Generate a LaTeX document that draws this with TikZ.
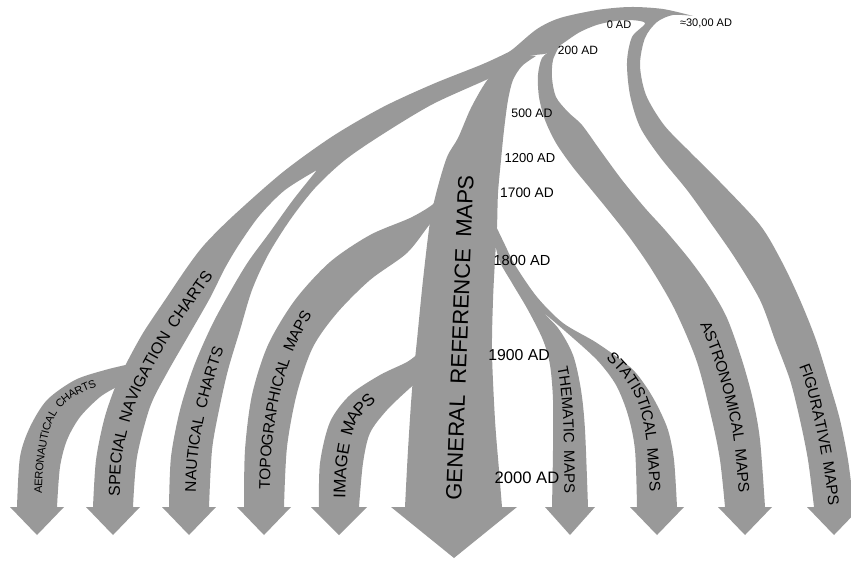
\documentclass[tikz,border=0pt]{standalone}
\usepackage{fontspec}
\setmainfont{Liberation Sans}
\newfontfamily\lbl[WordSpace=1.8]{Liberation Sans}
\usetikzlibrary{decorations.text}
\definecolor{bandgray}{RGB}{153,153,153}
\newcommand\curvlabel[4]{%
 \path[decorate,decoration={text along path,text align=center,raise=#2,text color=black,text={|\lbl\fontsize{#1}{#1}\selectfont|#4}}] #3;}
\begin{document}
\begin{tikzpicture}[x=1pt,y=-1pt,
  band/.style={fill=bandgray,draw=none},
  datelbl/.style={inner sep=0pt,text=black}]
\useasboundingbox (0,0) rectangle (851,560);

% figurative hook with the top arc
\fill[band] plot[smooth] coordinates {(814,507) (808,460) (800,420) (790,380) (775,340) (760,300) (735,258) (710,222) (687,190) (660,157) (640,127) (630,95) (627,62) (632,37) (645,23) (625,20) (600,24) (580,32) (562,44) (548,53) (535,55) (515,58) (505,62)}
  -- plot[smooth] coordinates {(500,58) (513,49) (537,29) (560,18) (597,10) (630,7) (663,9) (693,16)}
  -- plot[smooth] coordinates {(693,16) (673,15) (657,22) (645,38) (640,65) (646,95) (664,125) (690,152) (720,182) (760,225) (782,262) (800,300) (816,340) (830,385) (840,420) (848,460) (854,507)}
  -- (861,507) -- (834,535) -- (807,507) -- cycle;

% astronomical
\fill[band] plot[smooth] coordinates {(725,507) (720,460) (712,420) (697,362) (675,310) (652,270) (630,238) (608,210) (590,188) (572,166) (556,143) (545,120) (539,97) (538,75) (542,58) (552,50)}
  -- plot[smooth] coordinates {(560,45) (553,60) (552,78) (556,97) (568,112) (582,125) (600,150) (622,180) (645,208) (665,230) (690,260) (710,288) (727,318) (742,360) (753,400) (760,440) (765,507)}
  -- (772,507) -- (745,535) -- (718,507) -- cycle;

% general reference trunk
\fill[band] plot[smooth] coordinates {(405,507) (408,450) (412,390) (417,340) (423,280) (430,222) (437,190) (447,157) (458,138) (470,110) (482,88) (492,74) (505,62) (520,55) (536,56)}
  -- plot[smooth] coordinates {(536,56) (522,66) (513,80) (508,100) (504,130) (501,160) (498,193) (497,227) (495,260) (493,300) (492,353) (495,420) (499,470) (502,507)}
  -- (517,507) -- (454,558) -- (391,507) -- cycle;

% thematic + statistical
\fill[band] plot[smooth] coordinates {(552,507) (553,450) (553,400) (550,365) (543,340) (528,310) (512,283) (500,262) (494,240)}
  -- plot[smooth] coordinates {(494,222) (505,245) (515,265) (537,297) (563,323) (597,343) (630,367) (645,385) (657,405) (668,430) (674,460) (677,507)}
  -- (684,507) -- (657,535) -- (630,507)
  -- plot[smooth] coordinates {(637,507) (635,450) (628,415) (616,385) (597,360) (565,331) (538,308)}
  -- plot[smooth] coordinates {(538,308) (558,328) (573,355) (581,390) (585,430) (588,507)}
  -- (595,507) -- (570,535) -- (545,507) -- cycle;

% topographical
\fill[band] plot[smooth] coordinates {(244,507) (245,450) (252,395) (268,345) (295,300) (330,262) (370,235) (410,218) (432,205) (440,195)}
  -- plot[smooth] coordinates {(440,215) (430,224) (407,253) (370,280) (337,313) (313,347) (297,393) (287,447) (284,507)}
  -- (291,507) -- (264,535) -- (237,507) -- cycle;

% image maps
\fill[band] plot[smooth] coordinates {(319,507) (320,463) (330,422) (350,395) (380,375) (407,362) (420,352)}
  -- plot[smooth] coordinates {(420,380) (410,388) (387,410) (370,433) (363,463) (359,507)}
  -- (367,507) -- (339,535) -- (311,507) -- cycle;

% special navigation + nautical
\fill[band] plot[smooth] coordinates {(93,507) (96,460) (104,420) (114,390) (125,366) (143,333) (165,300) (188,266) (205,244) (233,216) (283,172) (333,136) (383,107) (433,84) (483,64) (513,50) (530,42)}
  -- plot[smooth] coordinates {(530,56) (505,68) (490,78) (433,104) (383,134) (345,160) (315,188) (290,220) (268,255) (252,290) (240,330) (228,370) (219,410) (212,450) (209,507)}
  -- (216,507) -- (189,535) -- (162,507)
  -- plot[smooth] coordinates {(169,507) (171,457) (180,410) (194,366) (212,325) (230,292) (248,262) (270,232) (293,200) (317,170)}
  -- plot[smooth] coordinates {(317,170) (285,190) (260,215) (240,243) (225,268) (210,298) (190,333) (167,373) (150,407) (137,457) (133,507)}
  -- (140,507) -- (113,535) -- (86,507) -- cycle;

% aeronautical
\fill[band] plot[smooth] coordinates {(17,507) (20,457) (30,427) (47,400) (75,380) (105,370) (130,364)}
  -- plot[smooth] coordinates {(125,380) (118,386) (100,397) (80,417) (67,440) (60,467) (57,507)}
  -- (64,507) -- (37,535) -- (10,507) -- cycle;

% band labels
\curvlabel{11}{-4pt}{plot[smooth] coordinates {(37,530) (39,470) (47,425) (65,398) (100,381) (130,372)}}{AERONAUTICAL CHARTS}
\curvlabel{16}{-5.8pt}{plot[smooth] coordinates {(113,545) (114,505) (116,457) (128,407) (145,370) (166,333) (189,300) (212,268) (240,235)}}{SPECIAL NAVIGATION CHARTS}
\curvlabel{15.5}{-5.6pt}{plot[smooth] coordinates {(189,560) (190,507) (192,457) (200,410) (212,366) (227,325) (246,285)}}{NAUTICAL CHARTS}
\curvlabel{15.5}{-5.6pt}{plot[smooth] coordinates {(264,600) (264,507) (266,450) (274,395) (290,345) (315,300) (350,265) (390,240)}}{TOPOGRAPHICAL MAPS}
\curvlabel{17}{-6.1pt}{plot[smooth] coordinates {(339,555) (339,507) (341,463) (350,422) (368,400) (393,381) (420,365)}}{IMAGE MAPS}
\curvlabel{22}{-7.9pt}{(451,560) -- (468,115)}{GENERAL REFERENCE MAPS}
\curvlabel{15}{-5.4pt}{plot[smooth] coordinates {(520,270) (540,305) (556,340) (565,380) (569,430) (570,507) (570,600)}}{THEMATIC MAPS}
\curvlabel{15.5}{-5.6pt}{plot[smooth] coordinates {(540,300) (575,325) (600,345) (625,370) (643,400) (652,440) (656,507) (657,580)}}{STATISTICAL MAPS}
\curvlabel{15.5}{-5.6pt}{plot[smooth] coordinates {(640,225) (670,262) (697,305) (720,360) (738,430) (745,507) (746,610)}}{ASTRONOMICAL MAPS}
\curvlabel{15.5}{-5.6pt}{plot[smooth] coordinates {(760,270) (780,300) (795,340) (810,380) (820,420) (828,460) (834,507) (836,610)}}{FIGURATIVE MAPS}

% date labels
\node[datelbl,font=\fontsize{11}{11}\selectfont] (d30000) at (706,23) {≈30,00 AD};
\node[datelbl,font=\fontsize{11}{11}\selectfont] (d0) at (619,25) {0 AD};
\node[datelbl,font=\fontsize{12}{12}\selectfont] (d200) at (578,50) {200 AD};
\node[datelbl,font=\fontsize{12.3}{12.3}\selectfont] (d500) at (532,113) {500 AD};
\node[datelbl,font=\fontsize{13}{13}\selectfont] (d1200) at (530,158) {1200 AD};
\node[datelbl,font=\fontsize{13.8}{13.8}\selectfont] (d1700) at (527,193) {1700 AD};
\node[datelbl,font=\fontsize{14.6}{14.6}\selectfont] (d1800) at (522,260) {1800 AD};
\node[datelbl,font=\fontsize{15.8}{15.8}\selectfont] (d1900) at (519,355) {1900 AD};
\node[datelbl,font=\fontsize{16.6}{16.6}\selectfont] (d2000) at (527,478) {2000 AD};
\end{tikzpicture}
\end{document}
